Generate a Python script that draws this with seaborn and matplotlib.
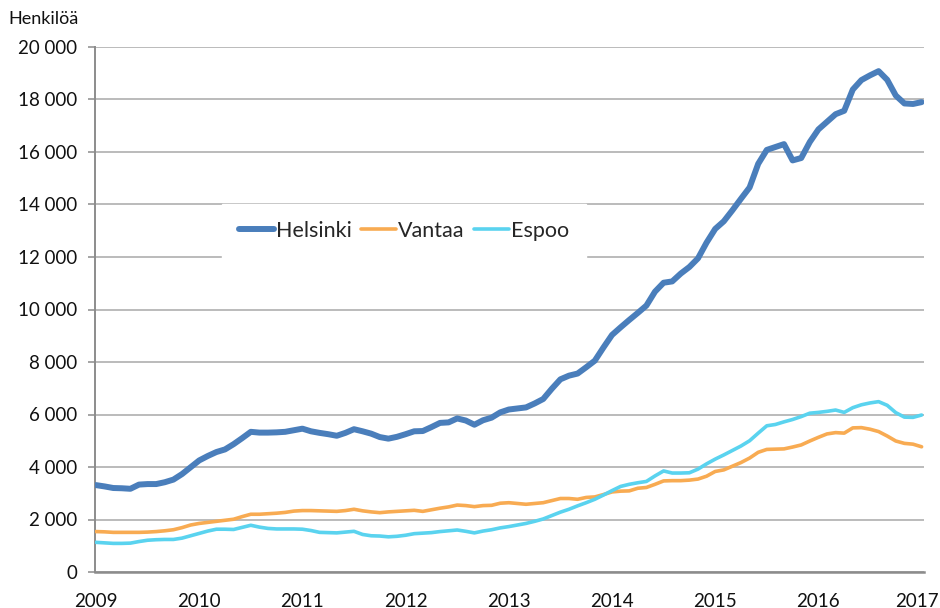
import numpy as np
import pandas as pd
import matplotlib
matplotlib.use("Agg")
import matplotlib.pyplot as plt
import matplotlib.transforms as mtransforms
import seaborn as sns

# Monthly values, Jan 2009 .. Jan 2017
helsinki = [3310, 3260, 3200, 3190, 3170, 3330, 3350, 3350, 3420, 3520, 3730, 3990,
            4250, 4420, 4570, 4670, 4870, 5100, 5340, 5310, 5310, 5320, 5340, 5400,
            5460, 5360, 5300, 5250, 5190, 5300, 5440, 5360, 5270, 5140, 5080, 5150,
            5250, 5360, 5370, 5520, 5680, 5700, 5850, 5770, 5610, 5780, 5880, 6080,
            6190, 6230, 6270, 6420, 6590, 6980, 7340, 7480, 7560, 7800, 8050, 8550,
            9030, 9320, 9600, 9870, 10150, 10680, 11020, 11070, 11370, 11620, 11950, 12550,
            13070, 13360, 13780, 14220, 14650, 15550, 16080, 16190, 16300, 15680, 15770, 16380,
            16860, 17150, 17440, 17570, 18380, 18740, 18920, 19080, 18750, 18150, 17850, 17830,
            17900]
vantaa = [1540, 1530, 1510, 1510, 1510, 1510, 1520, 1540, 1570, 1610, 1690, 1790,
          1850, 1890, 1930, 1970, 2010, 2110, 2200, 2200, 2220, 2240, 2270, 2320,
          2340, 2340, 2330, 2320, 2310, 2340, 2390, 2330, 2290, 2260, 2290, 2310,
          2330, 2350, 2310, 2370, 2430, 2480, 2550, 2530, 2490, 2530, 2540, 2620,
          2640, 2610, 2580, 2610, 2640, 2720, 2800, 2800, 2770, 2840, 2860, 2950,
          3050, 3080, 3090, 3190, 3220, 3340, 3470, 3480, 3480, 3500, 3540, 3650,
          3830, 3890, 4030, 4170, 4340, 4560, 4670, 4680, 4690, 4760, 4840, 4990,
          5130, 5260, 5310, 5290, 5490, 5500, 5440, 5350, 5180, 4990, 4900, 4870,
          4770]
espoo = [1130, 1110, 1090, 1090, 1100, 1160, 1210, 1230, 1240, 1240, 1290, 1380,
         1470, 1560, 1630, 1630, 1620, 1700, 1780, 1710, 1660, 1640, 1640, 1640,
         1630, 1580, 1510, 1500, 1490, 1520, 1550, 1430, 1380, 1370, 1340, 1360,
         1400, 1460, 1480, 1500, 1540, 1570, 1600, 1550, 1490, 1560, 1610, 1680,
         1730, 1790, 1850, 1930, 2020, 2150, 2280, 2390, 2520, 2640, 2770, 2930,
         3100, 3260, 3340, 3400, 3450, 3660, 3850, 3770, 3770, 3780, 3920, 4120,
         4300, 4460, 4630, 4800, 5000, 5290, 5570, 5620, 5720, 5810, 5920, 6050,
         6080, 6120, 6170, 6080, 6260, 6370, 6440, 6490, 6350, 6070, 5900, 5890,
         5980]
names = ["Helsinki", "Vantaa", "Espoo"]
year_ticks = [2009, 2010, 2011, 2012, 2013, 2014, 2015, 2016, 2017]
y_ticks = [0, 2000, 4000, 6000, 8000, 10000, 12000, 14000, 16000, 18000, 20000]

n = len(helsinki)
t = 2009 + np.arange(n) / 12.0
df = pd.concat([
    pd.DataFrame({"t": t, "value": vals, "kunta": name})
    for name, vals in zip(names, [helsinki, vantaa, espoo])
], ignore_index=True)

sns.set_theme(style="white")
plt.rcParams['font.family'] = ['Lato', 'DejaVu Sans']

colors = {"Helsinki": "#4a7ebb", "Vantaa": "#f8ab52", "Espoo": "#5ad3ef"}
widths = {"Helsinki": 4.3, "Vantaa": 2.6, "Espoo": 2.6}

fig = plt.figure(figsize=(9.4, 6.08), dpi=100)
ax = fig.add_axes([95/940, 1 - 572/608, (924 - 95)/940, (572 - 47)/608])

for name in names:
    sub = df[df["kunta"] == name]
    sns.lineplot(data=sub, x="t", y="value", ax=ax, color=colors[name],
                 linewidth=widths[name], label=name, zorder=3,
                 solid_capstyle="round", solid_joinstyle="round")

ax.set_xlim(2009 - 1/103.2, 2017 + 2.4/103.2)
ax.set_ylim(0, 20000)
ax.set_xticks(year_ticks)
ax.set_xticklabels([str(y) for y in year_ticks])
ax.set_yticks(y_ticks)
ax.set_yticklabels([f"{v:,}".replace(",", " ") for v in y_ticks])
ax.set_xlabel("")
ax.set_ylabel("")

ax.yaxis.grid(True, color="#a8a8a8", linewidth=1.1, zorder=0)
ax.xaxis.grid(False)
ax.set_axisbelow(True)
for s in ["top", "right"]:
    ax.spines[s].set_visible(False)
ax.spines["left"].set_color("#8c8c8c")
ax.spines["left"].set_linewidth(1.4)
ax.spines["bottom"].set_color("#8c8c8c")
ax.spines["bottom"].set_linewidth(1.8)

ax.tick_params(axis="y", which="major", left=True, length=5, width=1.1,
               color="#8c8c8c", pad=8, labelsize=13.5, labelcolor="#111111")
ax.tick_params(axis="x", which="major", bottom=False, pad=9, labelsize=13.5,
               labelcolor="#111111")

# nudge the last year label so it stays inside the figure
last = ax.get_xticklabels()[-1]
last.set_transform(last.get_transform() +
                   mtransforms.ScaledTranslation(-5/100, 0, fig.dpi_scale_trans))

fig.text(8/940, 1 - 19/608, "Henkilöä", fontsize=13, color="#111111",
         ha="left", va="center")

leg = ax.legend(loc="center", bbox_to_anchor=((404 - 95)/829, (572 - 231)/525),
                ncol=3, frameon=True, fontsize=15.5, handlelength=1.6,
                handletextpad=0.1, columnspacing=0.45, borderpad=0.8)
leg.get_frame().set_facecolor("white")
leg.get_frame().set_edgecolor("white")
leg.get_frame().set_alpha(1.0)
leg.get_frame().set_boxstyle("square", pad=0.0)

fig.savefig("out.png", dpi=100)
